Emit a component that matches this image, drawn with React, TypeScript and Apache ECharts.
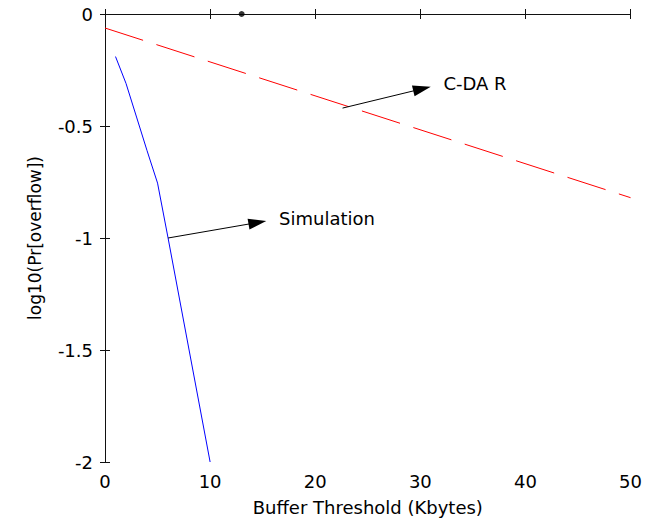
import React, { useEffect, useRef } from "react";
import * as echarts from "echarts";

// Data
const simX = [1, 2, 3, 4, 5, 6, 7, 8, 9, 10];
const simY = [-0.19, -0.31, -0.46, -0.61, -0.755, -1.0, -1.25, -1.5, -1.75, -2.0];
const cdarX = [0, 50];
const cdarY = [-0.0625, -0.82];
const dotPoint = [13, 0];
const xTicks = { min: 0, max: 50, interval: 10 };
const yTicks = { min: -2, max: 0, interval: 0.5 };
const simArrow = { from: [6, -1.0], to: [14.5, -0.931], label: "Simulation" };
const cdarArrow = { from: [22.6, -0.42], to: [30.16, -0.334], label: "C-DA R" };
const xTitle = "Buffer Threshold (Kbytes)";
const yTitle = "log10(Pr[overflow])";

const FONT = "DejaVu Sans";

export default function App() {
  const ref = useRef<HTMLDivElement>(null);
  useEffect(() => {
    document.body.style.margin = "0";
    const chart = echarts.init(ref.current!, null, { renderer: "svg" });
    const axisLine = { show: true, lineStyle: { color: "#111", width: 1 } };
    const tick = { show: true, inside: true, length: 5, lineStyle: { color: "#111" } };
    const arrowLine = (a: any) => ({
      silent: true,
      symbol: ["none", "triangle"],
      symbolSize: [11, 18],
      lineStyle: { color: "#000", width: 1, type: "solid" },
      itemStyle: { color: "#000" },
      label: {
        show: true,
        position: "end",
        formatter: a.label,
        color: "#000",
        fontFamily: FONT,
        fontSize: 18,
        distance: 22,
      },
      emphasis: { disabled: true },
      data: [[{ coord: a.from }, { coord: a.to }]],
    });
    chart.setOption({
      animation: false,
      backgroundColor: "#fff",
      grid: { left: 105, right: 13, top: 14, bottom: 61 },
      xAxis: [
        {
          type: "value",
          ...xTicks,
          position: "bottom",
          name: xTitle,
          nameLocation: "middle",
          nameGap: 36,
          nameTextStyle: { fontFamily: FONT, fontSize: 18, color: "#000" },
          axisLine,
          axisTick: tick,
          splitLine: { show: false },
          axisLabel: { fontFamily: FONT, fontSize: 18, color: "#000", margin: 10 },
        },
        {
          type: "value",
          ...xTicks,
          position: "top",
          axisLine,
          axisTick: tick,
          splitLine: { show: false },
          axisLabel: { show: false },
        },
      ],
      yAxis: [
        {
          type: "value",
          ...yTicks,
          position: "left",
          name: yTitle,
          nameLocation: "middle",
          nameGap: 62,
          nameTextStyle: { fontFamily: FONT, fontSize: 17, color: "#000" },
          axisLine,
          axisTick: tick,
          splitLine: { show: false },
          axisLabel: { fontFamily: FONT, fontSize: 18, color: "#000", margin: 12 },
        },
        {
          type: "value",
          ...yTicks,
          position: "right",
          axisLine,
          axisTick: tick,
          splitLine: { show: false },
          axisLabel: { show: false },
        },
      ],
      series: [
        {
          type: "line",
          name: "C-DAR",
          data: cdarX.map((x, i) => [x, cdarY[i]]),
          showSymbol: false,
          symbol: "none",
          lineStyle: { color: "#ff0000", width: 1, type: [40, 14] },
          markLine: arrowLine(cdarArrow),
        },
        {
          type: "line",
          name: "Simulation",
          data: simX.map((x, i) => [x, simY[i]]),
          showSymbol: false,
          symbol: "none",
          lineStyle: { color: "#0000ff", width: 1 },
          markLine: arrowLine(simArrow),
        },
        {
          type: "scatter",
          data: [dotPoint],
          symbolSize: 6,
          itemStyle: { color: "#000" },
        },
      ],
    });
    return () => chart.dispose();
  }, []);
  return <div ref={ref} style={{ width: 645, height: 523 }} />;
}
